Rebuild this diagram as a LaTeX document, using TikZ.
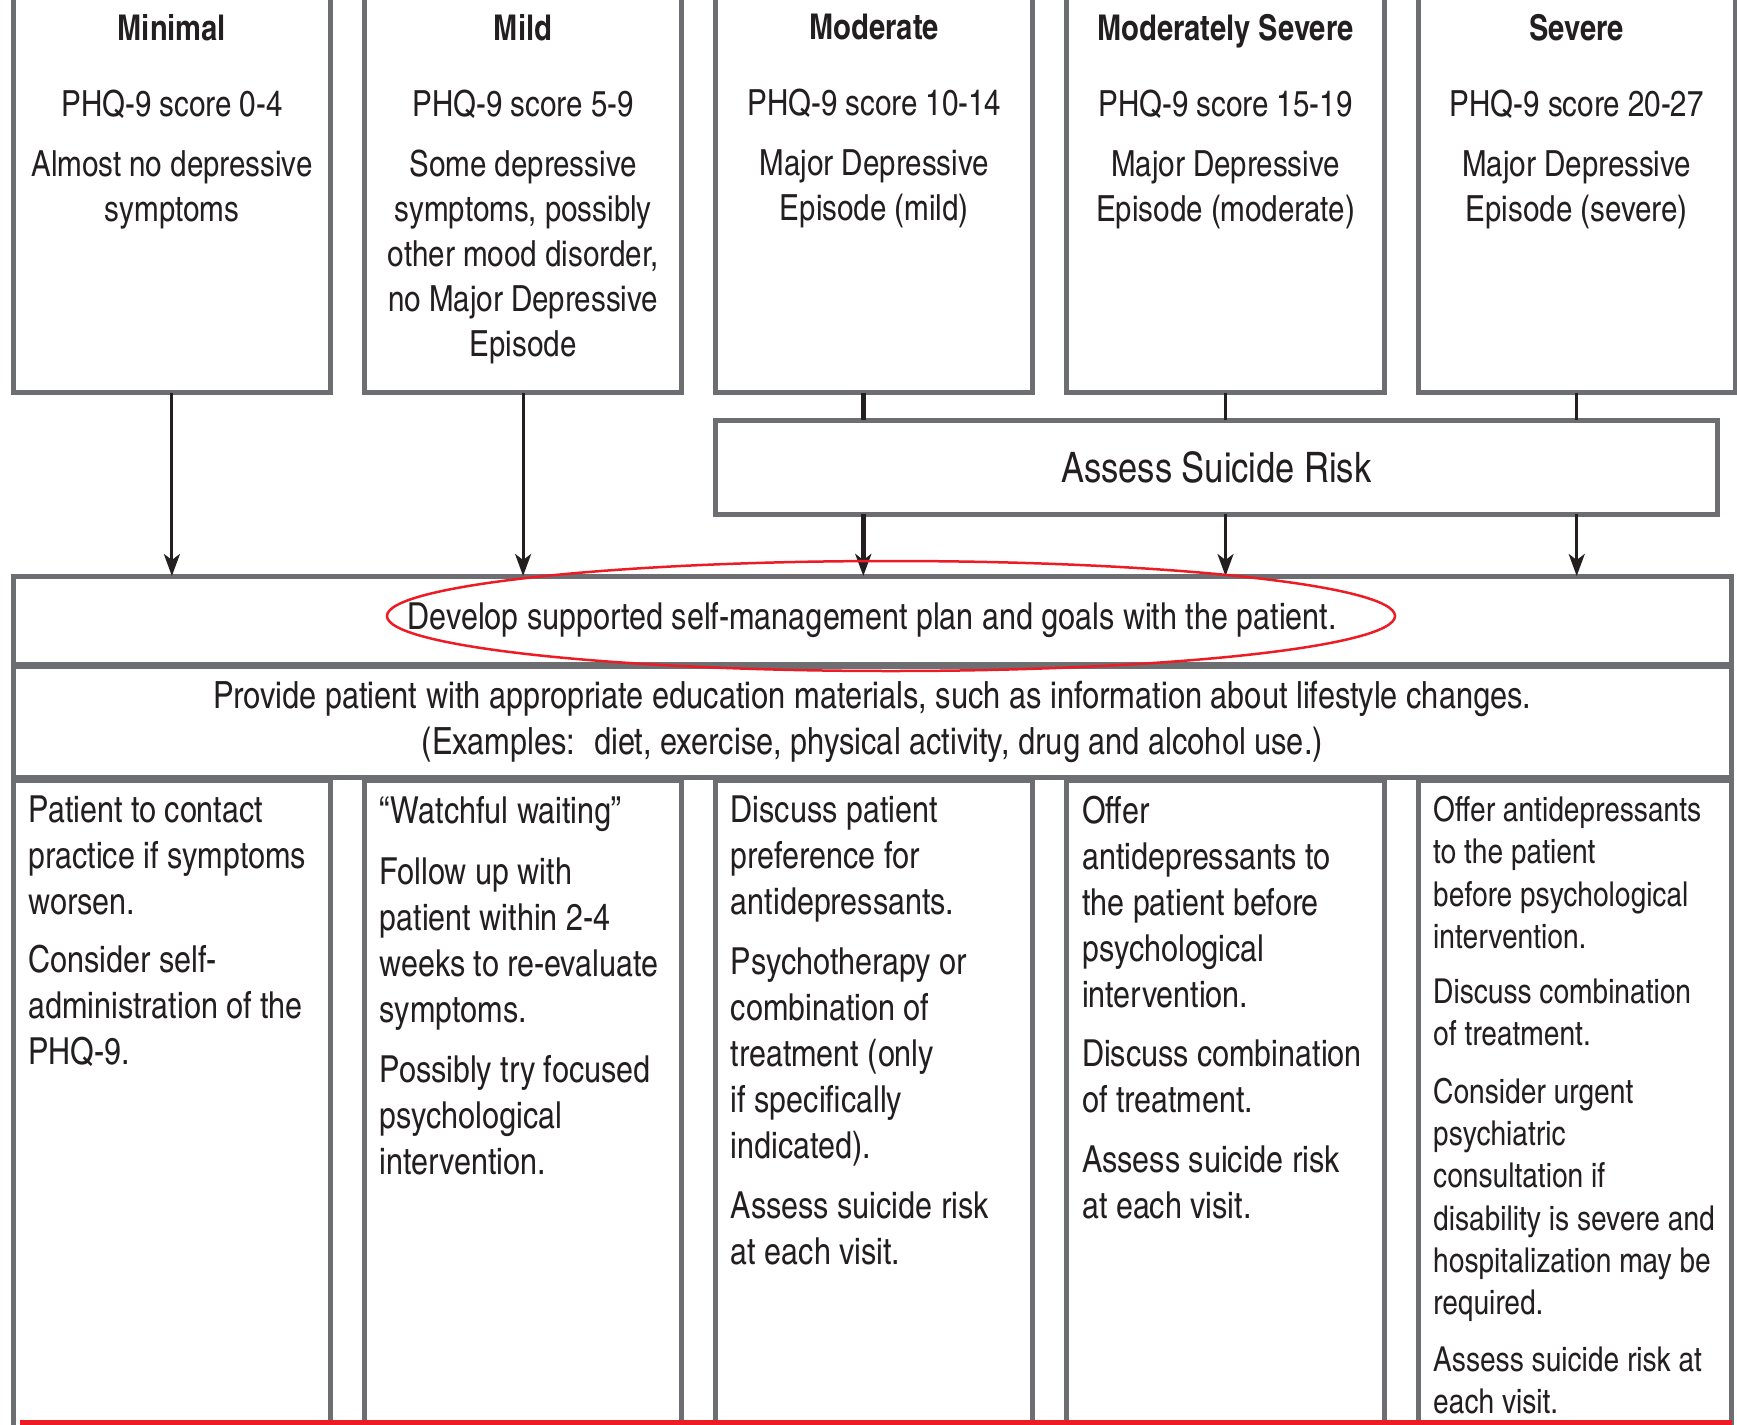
\documentclass[tikz,border=0pt]{standalone}
\usepackage{fontspec}
\setmainfont{texgyreheroscn}[Extension=.otf, UprightFont=*-regular, BoldFont=*-bold]
\usetikzlibrary{arrows.meta}
\definecolor{frameline}{HTML}{6D6E71}
\definecolor{careink}{HTML}{231F20}
\definecolor{flagred}{HTML}{ED1C24}
\newcommand{\levelfont}{\fontsize{36}{45}\selectfont}
\newcommand{\titlefont}{\fontsize{35.5}{45}\selectfont\bfseries}
\newcommand{\carefont}{\fontsize{37.2}{46}\selectfont}
\newcommand{\tightcarefont}{\fontsize{34.3}{42.3}\selectfont}
\newcommand{\levelbox}[4]{%
  \node[levelframe] (#1) at (#2,186.5) {};
  \node[leveltext] (#1t) at (#2,14) {{\titlefont #3}\\[31pt]#4};
}
\newcommand{\carebox}[3]{%
  \node[careframe] (#1) at (#2,780) {};
  \node[caretext] (#1t) at ({#2+15},796) {#3};
}

\begin{document}
\begin{tikzpicture}[x=1pt, y=-1pt,
  every node/.style={text=careink},
  levelframe/.style={draw=frameline, line width=5pt, minimum width=317.2pt, minimum height=412pt, inner sep=0pt, outer sep=0pt},
  leveltext/.style={anchor=north, align=center, font=\levelfont, inner sep=0pt},
  careframe/.style={draw=frameline, line width=5pt, anchor=north west, minimum width=317.2pt, minimum height=660pt, inner sep=0pt, outer sep=0pt},
  caretext/.style={anchor=north west, align=left, font=\carefont, inner sep=0pt},
  wideframe/.style={draw=frameline, line width=5pt, inner sep=0pt, outer sep=0pt, align=center, font=\fontsize{37.5}{45.5}\selectfont},
  feed/.style={careink, line width=3pt},
  feedarrow/.style={feed, -{Stealth[length=22pt, width=16pt, inset=6pt]}}]

  \useasboundingbox (0,0) rectangle (1737,1424);

  \levelbox{minimal}{171.9}{Minimal}{PHQ-9 score 0-4\\[15pt]Almost no depressive\\symptoms}
  \levelbox{mild}{523.1}{Mild}{PHQ-9 score 5-9\\[15pt]Some depressive\\symptoms, possibly\\other mood disorder,\\no Major Depressive\\Episode}
  \levelbox{moderate}{874.3}{Moderate}{PHQ-9 score 10-14\\[15pt]Major Depressive\\Episode (mild)}
  \levelbox{modsevere}{1225.5}{Moderately Severe}{PHQ-9 score 15-19\\[15pt]Major Depressive\\Episode (moderate)}
  \levelbox{severe}{1576.7}{Severe}{PHQ-9 score 20-27\\[15pt]Major Depressive\\Episode (severe)}

  \node[wideframe, minimum width=1001.3pt, minimum height=94pt, font=\fontsize{42}{50}\selectfont] (assess) at (1216.4,467) {Assess Suicide Risk};
  \node[wideframe, minimum width=1718.2pt, minimum height=88pt, font=\fontsize{37.2}{45}\selectfont] (develop) at (872.4,620) {Develop supported self-management plan and goals with the patient.};
  \node[wideframe, minimum width=1718.2pt, minimum height=110.5pt] (provide) at (872.4,721.8) {Provide patient with appropriate education materials, such as information about lifestyle changes.\\(Examples:\enspace diet, exercise, physical activity, drug and alcohol use.)};

  \carebox{minimalcare}{13.3}{Patient to contact\\practice if symptoms\\worsen.\\[12pt]Consider self-\\administration of the\\PHQ-9.}
  \carebox{mildcare}{364.5}{“Watchful waiting”\\[15pt]Follow up with\\patient within 2-4\\weeks to re-evaluate\\symptoms.\\[14pt]Possibly try focused\\psychological\\intervention.}
  \carebox{moderatecare}{715.7}{Discuss patient\\preference for\\antidepressants.\\[14pt]Psychotherapy or\\combination of\\treatment (only\\if specifically\\indicated).\\[14pt]Assess suicide risk\\at each visit.}
  \carebox{modseverecare}{1066.9}{Offer\\antidepressants to\\the patient before\\psychological\\intervention.\\[13pt]Discuss combination\\of treatment.\\[14pt]Assess suicide risk\\at each visit.}
  \node[careframe, minimum width=313.4pt] (severecare) at (1418.1,780) {};
  \node[caretext, font=\tightcarefont] (severecaret) at (1433,796) {Offer antidepressants\\to the patient\\before psychological\\intervention.\\[13pt]Discuss combination\\of treatment.\\[15pt]Consider urgent\\psychiatric\\consultation if\\disability is severe and\\hospitalization may be\\required.\\[14pt]Assess suicide risk at\\each visit.};

  \draw[feedarrow] (minimal.south) -- (minimal.south |- develop.north);
  \draw[feedarrow] (mild.south) -- (mild.south |- develop.north);
  \draw[feed, line width=5pt] ([xshift=-11pt]moderate.south) -- ([xshift=-11pt]moderate.south |- assess.north);
  \draw[feedarrow, line width=5pt] ([xshift=-11pt]moderate.south |- assess.south) -- ([xshift=-11pt]moderate.south |- develop.north);
  \draw[feed] (modsevere.south) -- (modsevere.south |- assess.north);
  \draw[feedarrow] (modsevere.south |- assess.south) -- (modsevere.south |- develop.north);
  \draw[feed] (severe.south) -- (severe.south |- assess.north);
  \draw[feedarrow] (severe.south |- assess.south) -- (severe.south |- develop.north);

  \draw[flagred, line width=2.5pt] (891,616) ellipse [x radius=504, y radius=55];
  \fill[flagred] (20,1419.5) rectangle (1732,1426);

\end{tikzpicture}
\end{document}
